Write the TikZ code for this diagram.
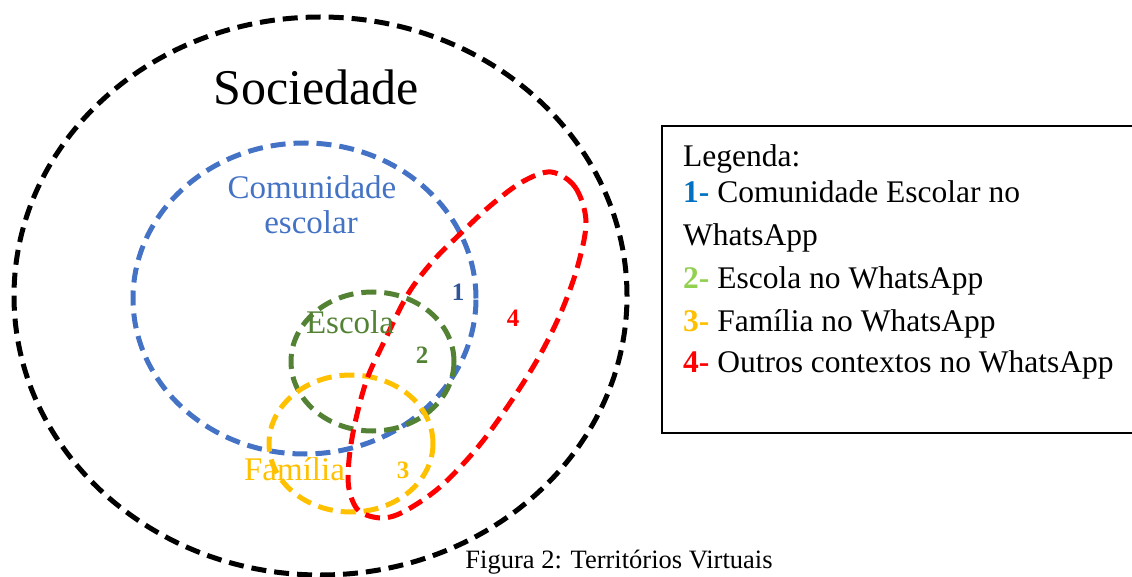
\documentclass[tikz,border=0pt]{standalone}
\usepackage{fontspec}
\setmainfont{Liberation Serif}
\definecolor{cblue}{HTML}{4472C4}
\definecolor{cdblue}{HTML}{2F5597}
\definecolor{cgreen}{HTML}{548235}
\definecolor{cyellow}{HTML}{FFC000}
\definecolor{cred}{HTML}{FF0000}
\definecolor{lblue}{HTML}{0070C0}
\definecolor{lgreen}{HTML}{92D050}
\tikzset{
  ring/.style={line width=5pt, dash pattern=on 15pt off 8pt},
  lab/.style={font=\fontsize{33}{35}\selectfont, anchor=base, inner sep=0pt},
  num/.style={font=\fontsize{25}{28}\selectfont\bfseries, anchor=base, inner sep=0pt},
  legline/.style={font=\fontsize{31.5}{36}\selectfont, anchor=base west, inner sep=0pt},
}
\begin{document}
\begin{tikzpicture}[x=1pt,y=-1pt]
\useasboundingbox (0,0) rectangle (1132,577);
% rings
\draw[ring, black] (320.5,296) ellipse [x radius=306.5pt, y radius=279pt];
\draw[ring, cblue] (304.5,298.5) ellipse [x radius=171.5pt, y radius=155.5pt];
\draw[ring, cgreen] (372.5,361.5) ellipse [x radius=81.5pt, y radius=69.5pt];
\draw[ring, cyellow] (351,443.5) ellipse [x radius=82pt, y radius=68.5pt];
\draw[ring, cred] plot[smooth cycle, tension=0.55] coordinates {
  (551,172) (575,187) (586,221) (578,265) (562,310) (540,355) (512,400)
  (478,447) (440,487) (405,511) (382,518) (359,511) (349,489) (349,460)
  (355,423) (367,379) (384,342) (408,294) (433,261) (459,235) (490,206) (522,182)};
% labels
\node[lab, font=\fontsize{50}{54}\selectfont] (soc) at (316,105) {Sociedade};
\node[lab, text=cblue] (com1) at (312,198.5) {Comunidade};
\node[lab, text=cblue] (com2) at (311,233.5) {escolar};
\node[lab, text=cgreen] (esc) at (350,333) {Escola};
\node[lab, text=cyellow] (fam) at (294.5,480) {Família};
\node[num, text=cdblue] (n1) at (458,301) {1};
\node[num, text=cgreen] (n2) at (422,363) {2};
\node[num, text=cyellow] (n3) at (403,478) {3};
\node[num, text=cred] (n4) at (513,326) {4};
% legend
\draw[line width=2pt] (1134,126.5) -- (662,126.5) -- (662,433) -- (1134,433);
\node[legline] (l0) at (683,167) {Legenda:};
\node[legline] (l1) at (683,203) {\textcolor{lblue}{\textbf{1-}} Comunidade Escolar no};
\node[legline] (l1b) at (683,246) {WhatsApp};
\node[legline] (l2) at (683,288) {\textcolor{lgreen}{\textbf{2-}} Escola no WhatsApp};
\node[legline] (l3) at (683,331) {\textcolor{cyellow}{\textbf{3-}} Família no WhatsApp};
\node[legline] (l4) at (683,372) {\textcolor{cred}{\textbf{4-}} Outros contextos no WhatsApp};
\node[font=\fontsize{26.5}{30}\selectfont, anchor=base, inner sep=0pt] (cap) at (619,568) {Figura 2: Territórios Virtuais};
\end{tikzpicture}
\end{document}
